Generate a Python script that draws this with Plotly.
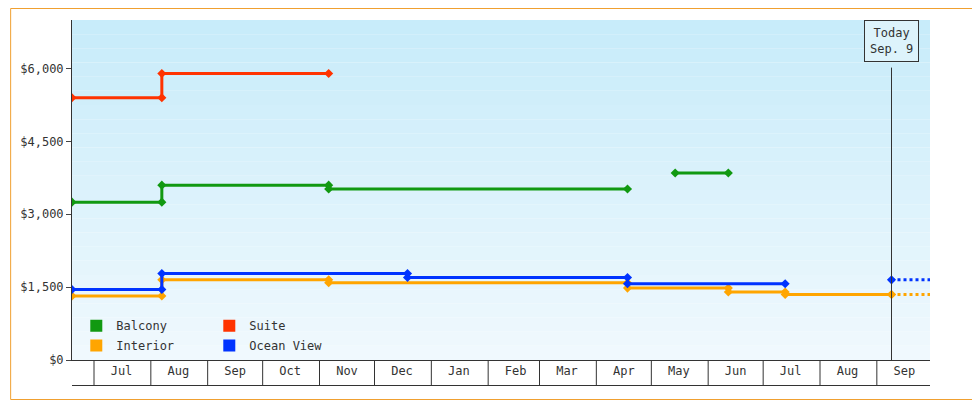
import plotly.graph_objects as go
import pandas as pd

# fare history (cabin price, USD)
suite_dates = ["2024-06-19", "2024-08-07", "2024-08-07", "2024-11-06"]
suite_vals = [5400, 5400, 5900, 5900]

balcony_dates = ["2024-06-19", "2024-08-07", "2024-08-07", "2024-11-06", "2024-11-06", "2025-04-18", None, "2025-05-14", "2025-06-12"]
balcony_vals = [3250, 3250, 3600, 3600, 3520, 3520, None, 3850, 3850]

ocean_dates = ["2024-06-19", "2024-08-07", "2024-08-07", "2024-12-19", "2024-12-19", "2025-04-18", "2025-04-18", "2025-07-13"]
ocean_vals = [1450, 1450, 1780, 1780, 1700, 1700, 1570, 1570]

interior_dates = ["2024-06-19", "2024-08-07", "2024-08-07", "2024-11-06", "2024-11-06", "2025-04-18", "2025-04-18",
                  "2025-06-12", "2025-06-12", "2025-07-13", "2025-07-13", "2025-09-09"]
interior_vals = [1320, 1320, 1650, 1650, 1590, 1590, 1480, 1480, 1400, 1400, 1350, 1350]

today = "2025-09-09"
today_ocean = 1650
today_interior = 1350
x_start, x_end = "2024-06-19", "2025-09-30"
month_starts = pd.date_range("2024-07-01", "2025-09-01", freq="MS")
y_ticks = [0, 1500, 3000, 4500, 6000]

GREEN, RED, ORANGE, BLUE = "#119911", "#ff3300", "#ffa500", "#0033ff"

fig = go.Figure()

# gradient background bands
n = 24
for i in range(n):
    t = i / (n - 1)
    r = int(240 + (200 - 240) * t)
    g = int(249 + (236 - 249) * t)
    b = int(254 + (250 - 254) * t)
    fig.add_shape(type="rect", xref="x domain", yref="y domain", x0=0, x1=1,
                  y0=i / n, y1=(i + 1) / n, fillcolor=f"rgb({r},{g},{b})",
                  line_width=0, layer="below")

def series(name, d, v, color, legend):
    fig.add_trace(go.Scatter(x=d, y=v, name=name, mode="lines+markers",
                             line=dict(color=color, width=3),
                             marker=dict(color=color, size=7, symbol="diamond"),
                             connectgaps=False, legendgroup=name, showlegend=False))
    # square legend key
    fig.add_trace(go.Scatter(x=[None], y=[None], name=name, mode="markers",
                             marker=dict(color=color, size=11, symbol="square"),
                             legendgroup=name, legend=legend))

series("Balcony", balcony_dates, balcony_vals, GREEN, "legend2")
series("Suite", suite_dates, suite_vals, RED, "legend2")
series("Interior", interior_dates, interior_vals, ORANGE, "legend")
series("Ocean View", ocean_dates, ocean_vals, BLUE, "legend")

# projected (dotted) continuation from today
for val, color, name in [(today_ocean, BLUE, "Ocean View"), (today_interior, ORANGE, "Interior")]:
    fig.add_trace(go.Scatter(x=[today, x_end], y=[val, val], mode="lines",
                             line=dict(color=color, width=3, dash="dot"),
                             showlegend=False, legendgroup=name))
    fig.add_trace(go.Scatter(x=[today], y=[val], mode="markers",
                             marker=dict(color=color, size=7, symbol="diamond"),
                             showlegend=False, legendgroup=name))

# today marker line
fig.add_shape(type="line", xref="x", yref="y domain", x0=today, x1=today, y0=0, y1=0.86,
              line=dict(color="#333", width=1))
fig.add_annotation(x=today, xref="x", y=1.0, yref="y domain", yanchor="top",
                   text="Today<br>Sep. 9", showarrow=False, bgcolor="#ddf3fb",
                   bordercolor="#333", borderwidth=1, borderpad=5,
                   font=dict(size=12, color="#333"))

# month separator band under the axis
for m in month_starts:
    fig.add_shape(type="line", xref="x", yref="y domain", x0=m, x1=m, y0=0, y1=-0.075,
                  line=dict(color="#333", width=1))
fig.add_shape(type="line", xref="x domain", yref="y domain", x0=0, x1=1, y0=-0.075, y1=-0.075,
              line=dict(color="#333", width=1))

# outer orange frame
fig.add_shape(type="rect", xref="paper", yref="paper", x0=-61.5 / 860, x1=1 + 49.5 / 860,
              y0=-39.5 / 340, y1=1 + 11.5 / 340, line=dict(color="#f0a030", width=1))

leg = dict(orientation="h", xanchor="left", yanchor="bottom", entrywidth=88,
           bgcolor="rgba(0,0,0,0)", font=dict(size=12), itemsizing="constant",
           traceorder="normal", itemwidth=30)
fig.update_layout(
    width=972, height=392,
    margin=dict(l=62, r=50, t=12, b=40),
    paper_bgcolor="white", plot_bgcolor="white",
    font=dict(family="DejaVu Sans Mono", size=12, color="#333"),
    showlegend=True,
    legend=dict(leg, x=0.005, y=0.0),
    legend2=dict(leg, x=0.005, y=0.058),
)
fig.update_xaxes(range=[x_start, x_end], tickvals=month_starts + pd.Timedelta(days=15),
                 ticktext=[m.strftime("%b") for m in month_starts], ticks="",
                 showgrid=False, showline=True, linecolor="#333", zeroline=False)
fig.update_yaxes(range=[0, 7000], tickvals=y_ticks,
                 ticktext=[f"${v:,}" for v in y_ticks], ticks="outside", ticklen=5,
                 showgrid=False, showline=True, linecolor="#333", linewidth=1, zeroline=False)

fig.write_html("out.html")
